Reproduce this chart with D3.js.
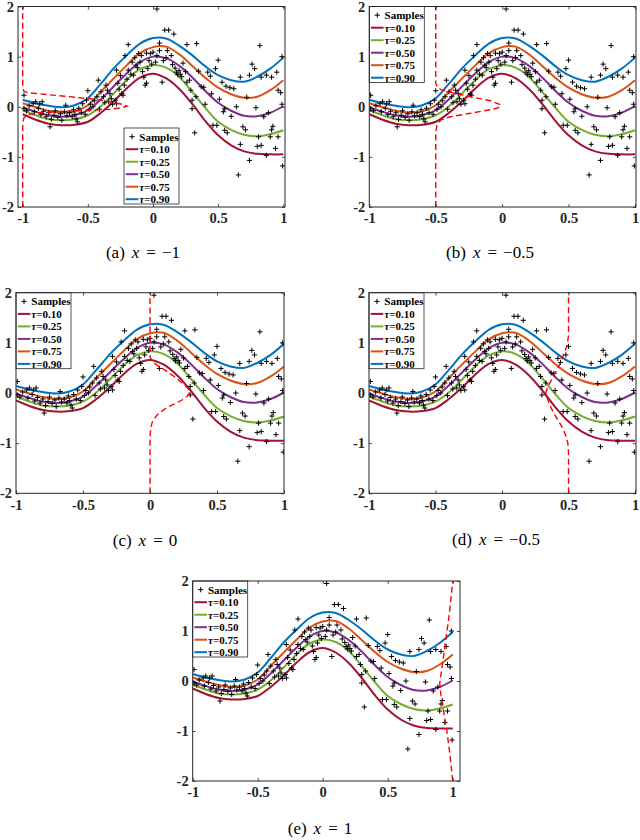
<!DOCTYPE html>
<html>
<head>
<meta charset="utf-8">
<script src="https://cdn.jsdelivr.net/npm/d3@7"></script>
<style>
  body { margin: 0; background: #fff; }
</style>
</head>
<body>
<script>
// x positions where the quantile curves were read
const xGrid = [-1, -0.9, -0.8, -0.7, -0.6, -0.5, -0.4, -0.3, -0.2, -0.1, 0, 0.1, 0.2, 0.3, 0.4, 0.5, 0.6, 0.7, 0.8, 0.9, 1];

const q10 = [-0.15, -0.26, -0.34, -0.37, -0.36, -0.30, -0.12, 0.11, 0.37, 0.58, 0.66, 0.57, 0.36, 0.06, -0.28, -0.57, -0.77, -0.89, -0.94, -0.95, -0.95];
const q25 = [-0.07, -0.17, -0.25, -0.27, -0.25, -0.17, 0.01, 0.27, 0.54, 0.75, 0.83, 0.78, 0.60, 0.30, -0.02, -0.30, -0.46, -0.56, -0.59, -0.55, -0.47];
const q50 = [-0.01, -0.10, -0.17, -0.20, -0.17, -0.07, 0.15, 0.41, 0.67, 0.89, 1.00, 0.97, 0.82, 0.59, 0.32, 0.08, -0.08, -0.18, -0.19, -0.12, 0.01];
const q75 = [0.07, -0.01, -0.08, -0.12, -0.09, 0.03, 0.30, 0.57, 0.83, 1.07, 1.19, 1.20, 1.05, 0.82, 0.58, 0.38, 0.25, 0.18, 0.20, 0.33, 0.53];
const q90 = [0.14, 0.07, 0.02, -0.01, 0.03, 0.17, 0.46, 0.77, 1.03, 1.26, 1.37, 1.36, 1.22, 1.03, 0.81, 0.63, 0.53, 0.50, 0.60, 0.76, 0.98];

const tauLabels = ['0.10', '0.25', '0.50', '0.75', '0.90'];

const samples = [
  [-0.99, 0.23], [-0.99, -0.04], [-0.97, -0.08], [-0.95, 0.02], [-0.92, 0.06], [-0.91, -0.10], [-0.90, 0.10],
  [-0.88, -0.03], [-0.87, 0.06], [-0.86, -0.16], [-0.85, 0.10], [-0.84, -0.09], [-0.82, -0.20], [-0.80, -0.12],
  [-0.79, -0.40], [-0.78, -0.25], [-0.76, -0.17], [-0.75, -0.08], [-0.73, -0.21], [-0.71, -0.14], [-0.70, -0.27],
  [-0.68, -0.10], [-0.67, 0.03], [-0.66, -0.18], [-0.64, -0.12], [-0.62, -0.20], [-0.61, -0.06], [-0.60, -0.15],
  [-0.59, -0.24], [-0.58, -0.30], [-0.57, -0.03], [-0.55, -0.12], [-0.54, 0.06], [-0.52, -0.15], [-0.51, 0.13],
  [-0.50, 0.32], [-0.49, -0.05], [-0.48, 0.05],
  [-0.46, 0.00], [-0.45, 0.12], [-0.43, 0.20], [-0.42, 0.53], [-0.41, -0.05], [-0.40, 0.30], [-0.38, 0.20],
  [-0.37, 0.08], [-0.36, 0.43], [-0.35, 0.33], [-0.34, 0.10], [-0.33, 0.26], [-0.32, 0.16], [-0.31, 0.05],
  [-0.29, 0.13], [-0.28, 0.73], [-0.28, 0.06], [-0.27, 0.47], [-0.26, 0.35], [-0.25, 0.62], [-0.24, 0.26],
  [-0.23, 0.23], [-0.22, 0.43], [-0.215, 1.02], [-0.20, 0.55], [-0.19, 1.24], [-0.19, 0.73], [-0.17, 0.65],
  [-0.16, 0.89], [-0.15, 0.63], [-0.14, 0.98], [-0.13, 0.83], [-0.12, 0.78], [-0.11, 1.06], [-0.10, 0.89],
  [-0.09, 1.02], [-0.08, 0.70], [-0.07, 0.59], [-0.06, 0.43], [-0.05, 0.47], [-0.05, 1.07], [-0.04, 0.76],
  [-0.03, 0.92], [-0.02, 1.06], [-0.01, 0.85],
  [0.00, 1.09], [0.02, 0.89], [0.03, 1.95], [0.03, 1.02], [0.05, 1.27], [0.05, 1.12], [0.07, 0.49],
  [0.08, 0.92], [0.09, 1.53], [0.10, 0.98], [0.11, 1.12], [0.12, 1.53], [0.14, 1.02], [0.15, 0.84],
  [0.16, 1.45], [0.17, 0.77], [0.18, 0.69], [0.19, 0.64], [0.20, 0.72], [0.21, 0.65], [0.22, 0.60],
  [0.23, 0.87], [0.25, 0.70], [0.26, 1.24], [0.26, 0.49], [0.28, 0.53], [0.29, 0.33], [0.30, 0.13],
  [0.30, -0.04], [0.32, -0.52], [0.33, 0.20], [0.335, 1.26], [0.35, 0.71], [0.37, 0.40], [0.39, 0.39],
  [0.40, 0.05], [0.42, 0.69], [0.44, 0.61], [0.45, 0.26], [0.46, -0.37], [0.48, 0.76], [0.49, -0.37],
  [0.50, 0.93],
  [0.51, 0.15], [0.53, 0.49], [0.54, -0.10], [0.55, -0.04], [0.55, -0.47], [0.56, 0.41], [0.57, -0.52],
  [0.59, 0.38], [0.60, -0.19], [0.62, 0.36], [0.64, 0.00], [0.655, -1.36], [0.67, 0.59], [0.67, -0.75],
  [0.69, -0.40], [0.71, -0.46], [0.72, 0.19], [0.74, 0.63], [0.74, -1.07], [0.76, 0.85], [0.78, 0.76],
  [0.79, -0.02], [0.80, -0.79], [0.81, -0.60], [0.82, 1.22], [0.83, 0.59], [0.83, -0.77], [0.85, -0.20],
  [0.87, 0.63], [0.87, -0.97], [0.885, -0.12], [0.90, -0.60], [0.91, 0.59], [0.91, -0.46], [0.92, -0.39],
  [0.94, -0.83], [0.95, 0.69], [0.96, 0.33], [0.96, -0.60], [0.98, 0.28], [0.99, 1.00], [0.995, -1.18],
  [0.99, 0.05]
];

// red dashed conditional densities, [x, y]
const densA = [[-1, -2], [-1, -0.32], [-0.99, -0.22], [-0.96, -0.16], [-0.88, -0.12], [-0.70, -0.09], [-0.50, -0.07],
  [-0.33, -0.05], [-0.24, -0.02], [-0.20, 0.01], [-0.24, 0.05], [-0.33, 0.10], [-0.45, 0.15], [-0.60, 0.19],
  [-0.80, 0.24], [-0.96, 0.28], [-0.99, 0.31], [-1, 0.36], [-1, 2]];
const densB = [[-0.5, -2], [-0.5, -0.5], [-0.49, -0.35], [-0.46, -0.26], [-0.39, -0.20], [-0.24, -0.13], [-0.09, -0.06],
  [-0.04, -0.03], [-0.01, 0.01], [-0.02, 0.05], [-0.09, 0.12], [-0.24, 0.20], [-0.39, 0.29], [-0.46, 0.34],
  [-0.49, 0.40], [-0.5, 0.47], [-0.5, 2]];
const densC = [[0, -2], [0, -0.9], [0.005, -0.7], [0.02, -0.55], [0.06, -0.42], [0.12, -0.30], [0.18, -0.22],
  [0.24, -0.14], [0.28, -0.06], [0.30, 0.03], [0.28, 0.10], [0.24, 0.20], [0.18, 0.33], [0.12, 0.44],
  [0.06, 0.54], [0.02, 0.62], [0, 0.72], [0, 2]];
const densD = [[0.5, -2], [0.5, -1.2], [0.495, -1.0], [0.48, -0.85], [0.45, -0.67], [0.40, -0.45], [0.36, -0.25],
  [0.34, -0.10], [0.33, 0.02], [0.35, 0.15], [0.39, 0.35], [0.43, 0.55], [0.46, 0.75], [0.49, 0.95],
  [0.5, 1.15], [0.5, 2]];
const densE = [[1.0, -2], [0.99, -1.75], [0.975, -1.4], [0.955, -1.0], [0.93, -0.6], [0.91, -0.3], [0.90, -0.05],
  [0.905, 0.05], [0.925, 0.4], [0.945, 0.8], [0.967, 1.2], [0.985, 1.6], [1.0, 2]];

const xTicks = [-1, -0.5, 0, 0.5, 1];
const xTickLabels = ['-1', '-0.5', '0', '0.5', '1'];
const yTicks = [-2, -1, 0, 1, 2];
const yTickLabels = ['-2', '-1', '0', '1', '2'];

const capLetters = ['(a)', '(b)', '(c)', '(d)', '(e)'];
const capValues = ['\u22121', '\u22120.5', '0', '\u22120.5', '1'];

const quantiles = [q10, q25, q50, q75, q90];
const colors = ['#A2142F', '#77AC30', '#7E2F8E', '#D95319', '#0072BD'];
const axisColor = '#262626';
const serif = '"Liberation Serif", "Times New Roman", serif';

const panels = [
  {id: 'a', left: 18, right: 285, top: 6.5, bottom: 207, xmin: -1.036, xmax: 1.013, dens: densA, capX: 143, capY: 258, legend: 'south'},
  {id: 'b', left: 369.3, right: 636, top: 6.5, bottom: 207, xmin: -1, xmax: 1.0075, dens: densB, capX: 490, capY: 258, legend: 'nw'},
  {id: 'c', left: 16, right: 284, top: 292.7, bottom: 493.3, xmin: -1, xmax: 1, dens: densC, capX: 145, capY: 546, legend: 'nw'},
  {id: 'd', left: 369, right: 636, top: 292.7, bottom: 493.3, xmin: -1, xmax: 1.0075, dens: densD, capX: 496, capY: 545, legend: 'nw'},
  {id: 'e', left: 192.7, right: 460, top: 581, bottom: 781, xmin: -1, xmax: 1.056, dens: densE, capX: 320, capY: 834, legend: 'nw'}
];

const svg = d3.select('body').append('svg')
  .attr('width', 640)
  .attr('height', 840);

svg.append('rect').attr('width', 640).attr('height', 840).attr('fill', '#fff');

panels.forEach((p, i) => drawPanel(p, i));

function drawPanel(p, i) {
  const x = d3.scaleLinear().domain([p.xmin, p.xmax]).range([p.left, p.right]);
  const y = d3.scaleLinear().domain([-2, 2]).range([p.bottom, p.top]);
  const g = svg.append('g');

  g.append('clipPath').attr('id', 'clip-' + p.id)
    .append('rect')
    .attr('x', p.left).attr('y', p.top)
    .attr('width', p.right - p.left).attr('height', p.bottom - p.top);
  const plot = g.append('g').attr('clip-path', `url(#clip-${p.id})`);

  // quantile curves
  const curve = d3.line()
    .x(d => x(d[0]))
    .y(d => y(d[1]))
    .curve(d3.curveCatmullRom.alpha(0.5));
  quantiles.forEach((q, k) => {
    plot.append('path')
      .datum(xGrid.map((xv, j) => [xv, q[j]]))
      .attr('d', curve)
      .attr('fill', 'none')
      .attr('stroke', colors[k])
      .attr('stroke-width', 2);
  });

  // samples
  plot.selectAll('path.sample')
    .data(samples).enter()
    .append('path')
    .attr('class', 'sample')
    .attr('d', d => `M${x(d[0]) - 2.6},${y(d[1])}h5.2M${x(d[0])},${y(d[1]) - 2.6}v5.2`)
    .attr('stroke', '#000')
    .attr('stroke-width', 1);

  // density
  plot.append('path')
    .datum(p.dens)
    .attr('d', d3.line().x(d => x(d[0])).y(d => y(d[1])))
    .attr('fill', 'none')
    .attr('stroke', '#FF0000')
    .attr('stroke-width', 1.4)
    .attr('stroke-dasharray', '6,3.5');

  // axes, ticks inside on all four sides
  const styleAxis = sel => {
    sel.select('.domain').remove();
    sel.attr('color', axisColor)
      .attr('font-family', serif)
      .attr('font-size', 14.5)
      .attr('font-weight', 'bold');
    sel.selectAll('line').attr('stroke-width', 0.8);
  };
  g.append('g').attr('transform', `translate(0,${p.bottom})`)
    .call(d3.axisBottom(x).tickValues(xTicks).tickFormat((d, k) => xTickLabels[k])
      .tickSizeInner(-3).tickSizeOuter(0).tickPadding(6))
    .call(styleAxis);
  g.append('g').attr('transform', `translate(0,${p.top})`)
    .call(d3.axisTop(x).tickValues(xTicks).tickFormat('').tickSizeInner(-3).tickSizeOuter(0))
    .call(styleAxis);
  g.append('g').attr('transform', `translate(${p.left},0)`)
    .call(d3.axisLeft(y).tickValues(yTicks).tickFormat((d, k) => yTickLabels[k])
      .tickSizeInner(-3).tickSizeOuter(0).tickPadding(4))
    .call(styleAxis);
  g.append('g').attr('transform', `translate(${p.right},0)`)
    .call(d3.axisRight(y).tickValues(yTicks).tickFormat('').tickSizeInner(-3).tickSizeOuter(0))
    .call(styleAxis);

  drawLegend(g, p);

  // frame
  g.append('rect')
    .attr('x', p.left).attr('y', p.top)
    .attr('width', p.right - p.left).attr('height', p.bottom - p.top)
    .attr('fill', 'none')
    .attr('stroke', axisColor)
    .attr('stroke-width', 1);

  // caption
  const cap = svg.append('text')
    .attr('x', p.capX).attr('y', p.capY)
    .attr('text-anchor', 'middle')
    .attr('font-family', serif)
    .attr('font-size', 17)
    .attr('fill', '#000');
  cap.append('tspan').text(capLetters[i]);
  cap.append('tspan').attr('dx', 7).attr('font-style', 'italic').text('x');
  cap.append('tspan').attr('dx', 7).text('=');
  cap.append('tspan').attr('dx', 6).text(capValues[i]);
}

function drawLegend(g, p) {
  const w = 55, h = 76, rowH = 12.5;
  const lx = p.legend === 'south' ? (p.left + p.right) / 2 - w / 2 : p.left;
  const ly = p.legend === 'south' ? p.bottom - 3 - h : p.top;
  const lg = g.append('g');
  lg.append('rect')
    .attr('x', lx).attr('y', ly)
    .attr('width', w).attr('height', h)
    .attr('fill', '#fff')
    .attr('stroke', axisColor)
    .attr('stroke-width', 0.8);

  const rows = ['Samples'].concat(tauLabels);
  rows.forEach((r, k) => {
    const cy = ly + 8.7 + k * rowH;
    if (k === 0) {
      lg.append('path')
        .attr('d', `M${lx + 8 - 2.6},${cy}h5.2M${lx + 8},${cy - 2.6}v5.2`)
        .attr('stroke', '#000').attr('stroke-width', 1);
    } else {
      lg.append('line')
        .attr('x1', lx + 1.7).attr('x2', lx + 14.3)
        .attr('y1', cy).attr('y2', cy)
        .attr('stroke', colors[k - 1]).attr('stroke-width', 2);
    }
    const t = lg.append('text')
      .attr('x', lx + 15.3).attr('y', cy + 3.8)
      .attr('font-family', serif)
      .attr('font-size', 11)
      .attr('font-weight', 'bold')
      .attr('fill', '#000');
    if (k === 0) {
      t.text(r);
    } else {
      t.append('tspan').attr('font-style', 'italic').text('\u03C4');
      t.append('tspan').text('=' + r);
    }
  });
}
</script>
</body>
</html>
